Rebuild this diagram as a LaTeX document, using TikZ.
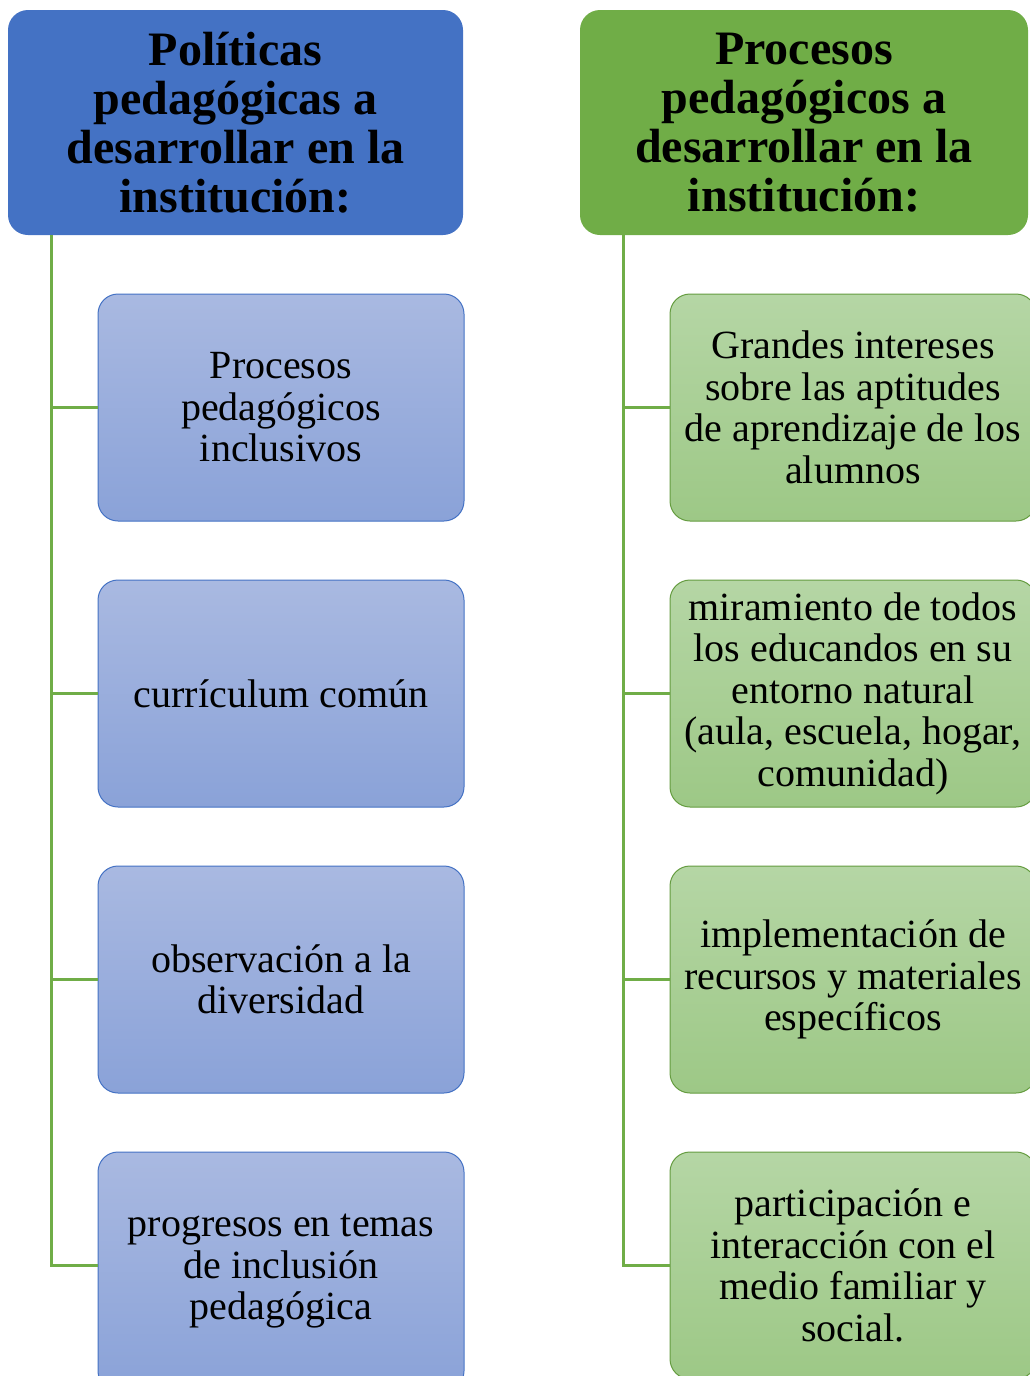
\documentclass[tikz,border=0pt]{standalone}
\usepackage{fontspec}
\setmainfont{Liberation Serif}
\usepackage{tikz}

\definecolor{headblue}{HTML}{4472C4}
\definecolor{headgreen}{HTML}{70AD47}
\definecolor{bluetop}{HTML}{A9B9E1}
\definecolor{bluebot}{HTML}{8AA2D8}
\definecolor{greentop}{HTML}{B5D6A5}
\definecolor{greenbot}{HTML}{9DC886}

\tikzset{
  head/.style={rounded corners=20pt, minimum height=225pt, align=center, inner sep=0pt,
    font=\fontsize{48}{49}\selectfont\bfseries},
  item/.style={rounded corners=20pt, minimum width=366pt, minimum height=227pt, align=center,
    inner sep=0pt, line width=1pt, font=\fontsize{40}{41.5}\selectfont},
  blueitem/.style={item, draw=headblue, top color=bluetop, bottom color=bluebot},
  greenitem/.style={item, draw=headgreen!90!black, top color=greentop, bottom color=greenbot},
  conn/.style={draw=headgreen, line width=3pt}
}

\begin{document}
\begin{tikzpicture}[x=1pt,y=-1pt]
\useasboundingbox (0,0) rectangle (1030,1376);

% left column
\node[head, fill=headblue, minimum width=455pt] (lh) at (235.5,122.5)
  {Políticas\\pedagógicas a\\desarrollar en la\\institución:};
\node[blueitem] (l1) at (281,407.5) {Procesos\\pedagógicos\\inclusivos};
\node[blueitem] (l2) at (281,693.5) {currículum común};
\node[blueitem] (l3) at (281,979.5) {observación a la\\diversidad};
\node[blueitem, minimum height=239pt] (l4) at (281,1271.5) {progresos en temas\\de inclusión\\pedagógica};

% right column
\node[head, fill=headgreen, minimum width=448pt] (rh) at (804,122.5)
  {Procesos\\pedagógicos a\\desarrollar en la\\institución:};
\node[greenitem] (r1) at (853,407.5) {Grandes intereses\\sobre las aptitudes\\de aprendizaje de los\\alumnos};
\node[greenitem] (r2) at (853,693.5) {miramiento de todos\\los educandos en su\\entorno natural\\(aula, escuela, hogar,\\comunidad)};
\node[greenitem] (r3) at (853,979.5) {implementación de\\recursos y materiales\\específicos};
\node[greenitem] (r4) at (853,1265.5) {participación e\\interacción con el\\medio familiar y\\social.};

\coordinate (lt) at ([xshift=44pt]lh.south west);
\coordinate (rt) at ([xshift=44pt]rh.south west);
\foreach \i/\s in {1/0,2/0,3/0,4/6}
{
	\draw[conn] (lt) |- ([yshift=\s pt]l\i.west);
	\draw[conn] (rt) |- (r\i.west);
}
\end{tikzpicture}
\end{document}
